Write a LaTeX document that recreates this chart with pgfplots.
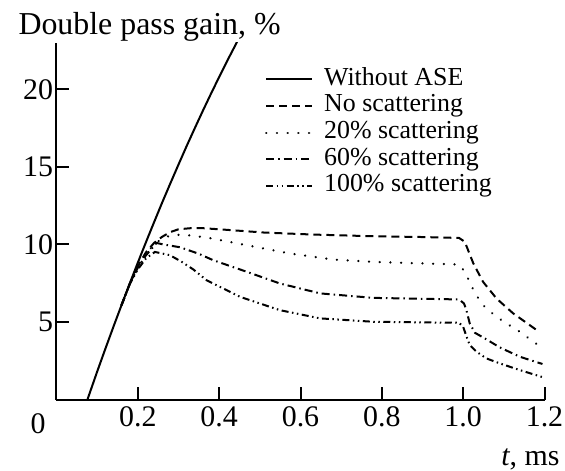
\documentclass[border=0pt]{standalone}
\usepackage{pgfplots}
\pgfplotsset{compat=1.18}
\usepackage{fontspec}
\setmainfont{Liberation Serif}
\begin{document}
\begin{tikzpicture}
\path[use as bounding box] (-56.5bp,-71.3bp) rectangle (508.5bp,399.7bp);
\begin{axis}[
  scale only axis,
  width=488bp, height=357bp,
  xmin=0, xmax=1.2, ymin=0, ymax=23,
  axis x line*=bottom, axis y line*=left,
  xtick align=inside, ytick align=inside,
  axis line style={line width=2bp},
  major tick length=12.7bp,
  tick style={line width=2bp, black},
  xtick={0.2,0.4,0.6,0.8,1.0,1.2},
  xticklabels={0.2,0.4,0.6,0.8,1.0,1.2},
  ytick={5,10,15,20},
  /pgf/number format/assume math mode=true,
  tick label style={font=\fontsize{30}{36}\selectfont},
  xticklabel style={yshift=-3bp},
  legend cell align=left,
  legend style={draw=none, fill=none, at={(0.4273,0.9347)}, anchor=north west,
    inner sep=0pt, outer sep=0pt, row sep=0pt, column sep=10.7bp,
    font=\fontsize{26}{30}\selectfont,
    nodes={inner sep=0pt, text height=19bp, text depth=7.7bp}},
  legend image code/.code={\draw[#1] (0bp,0bp) -- (46bp,0bp);},
  every axis plot/.append style={line width=2bp, black},
]
\addplot[solid] coordinates {
(0.076,0) (0.10,1.81) (0.12,3.27) (0.14,4.70) (0.16,6.10) (0.18,7.48)
(0.20,8.83) (0.22,10.15) (0.24,11.44) (0.26,12.71) (0.28,13.94) (0.30,15.15)
(0.32,16.34) (0.34,17.49) (0.36,18.62) (0.38,19.72) (0.40,20.79) (0.42,21.84)
(0.44,22.85) (0.45,23.36)};
\addlegendentry{Without ASE}
\addplot[dash pattern=on 8bp off 5bp] coordinates {
(0.16,6.10) (0.18,7.45) (0.20,8.6) (0.22,9.5) (0.24,10.1) (0.26,10.5)
(0.28,10.8) (0.30,10.98) (0.33,11.05) (0.36,11.05) (0.41,10.96) (0.51,10.77)
(0.63,10.64) (0.78,10.53) (0.90,10.48) (0.99,10.42) (1.004,10.17) (1.025,8.78)
(1.049,7.59) (1.082,6.52) (1.123,5.56) (1.18,4.5)};
\addlegendentry{No scattering}
\addplot[line cap=round, dash pattern=on 0.1bp off 10.6bp, line width=2.4bp] coordinates {
(0.16,6.10) (0.18,7.45) (0.20,8.55) (0.22,9.4) (0.24,10.0) (0.263,10.45)
(0.29,10.62) (0.316,10.62) (0.369,10.45) (0.468,9.95) (0.574,9.42) (0.68,9.03)
(0.779,8.88) (0.90,8.78) (0.99,8.71) (1.004,8.24) (1.016,7.59) (1.029,6.85)
(1.049,6.09) (1.074,5.51) (1.103,4.96) (1.131,4.53) (1.18,3.6)};
\addlegendentry{20\% scattering}
\addplot[dash pattern=on 8bp off 4bp on 1.5bp off 4bp] coordinates {
(0.16,6.10) (0.18,7.45) (0.20,8.5) (0.22,9.3) (0.246,10.1) (0.263,10.0)
(0.304,9.82) (0.35,9.4) (0.385,8.99) (0.468,8.24) (0.549,7.49) (0.648,6.85)
(0.779,6.56) (0.90,6.5) (0.99,6.46) (1.002,6.2) (1.008,5.77) (1.016,4.92)
(1.029,4.31) (1.057,3.89) (1.09,3.37) (1.139,2.77) (1.195,2.30)};
\addlegendentry{60\% scattering}
\addplot[dash pattern=on 7bp off 3.5bp on 1.5bp off 3.5bp on 1.5bp off 3.5bp] coordinates {
(0.16,6.10) (0.18,7.45) (0.20,8.4) (0.22,9.1) (0.242,9.52) (0.279,9.31)
(0.308,8.88) (0.336,8.4) (0.369,7.7) (0.451,6.63) (0.549,5.77) (0.648,5.24)
(0.779,5.02) (0.90,4.98) (0.99,4.96) (1.0,4.70) (1.007,4.16) (1.016,3.52)
(1.033,3.09) (1.057,2.66) (1.09,2.34) (1.139,1.91) (1.197,1.44)};
\addlegendentry{100\% scattering}
\end{axis}
\node[anchor=base, font=\fontsize{30}{36}\selectfont] at ([xshift=-18.5bp,yshift=-33.3bp]current axis.south west) {0};
\node[anchor=base west, font=\fontsize{32}{36}\selectfont] at ([xshift=-41.5bp,yshift=364.7bp]current axis.south west) {Double pass gain, \%};
\node[anchor=base east, font=\fontsize{30}{36}\selectfont] at ([xshift=506.5bp,yshift=-65.5bp]current axis.south west) {\textit{t}, ms};
\end{tikzpicture}
\end{document}
